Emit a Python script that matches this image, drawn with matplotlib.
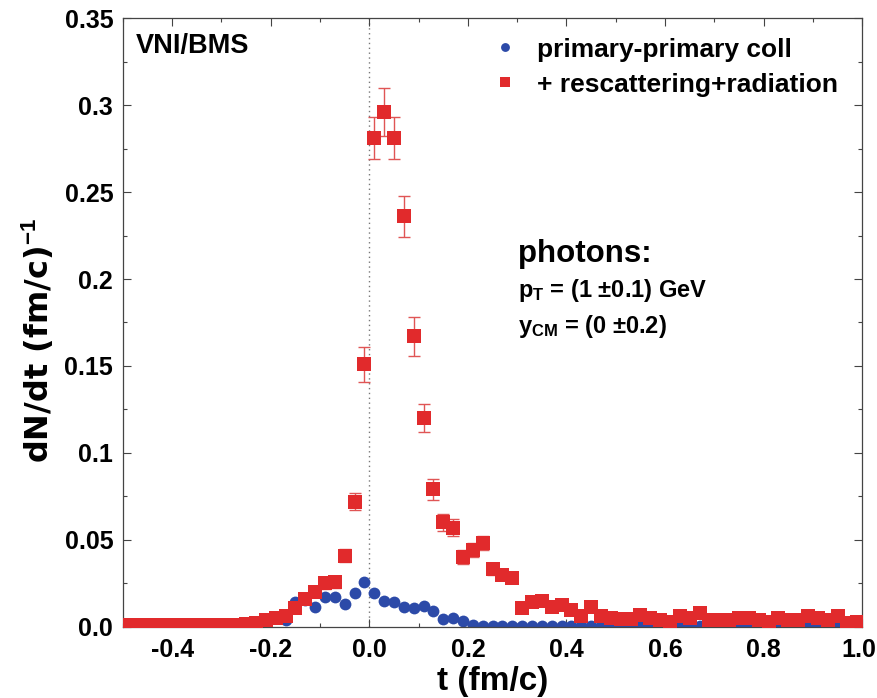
import matplotlib
matplotlib.use('Agg')
import matplotlib.pyplot as plt
import matplotlib.transforms as mtransforms
import numpy as np

plt.rcParams['font.family'] = ['Liberation Sans', 'DejaVu Sans']
plt.rcParams['font.weight'] = 'bold'
plt.rcParams['mathtext.fontset'] = 'custom'
plt.rcParams['mathtext.rm'] = 'Liberation Sans:bold'
plt.rcParams['mathtext.bf'] = 'Liberation Sans:bold'
plt.rcParams['mathtext.it'] = 'Liberation Sans:bold'

# bin centres in t (fm/c), 0.02 wide bins from -0.5 to 1.0
t_centres = np.round(np.arange(-0.49, 1.0, 0.02), 2)

# primary-primary collisions
primary = [
    0.0005, 0.0005, 0.0005, 0.0005, 0.0005, 0.0005, 0.0005, 0.0005, 0.0005, 0.0005,
    0.0005, 0.0005, 0.0005, 0.001, 0.003, 0.005, 0.004, 0.014, 0.0155, 0.0115,
    0.017, 0.017, 0.013, 0.0195, 0.026, 0.0195, 0.015, 0.0145, 0.0115, 0.011,
    0.012, 0.009, 0.0045, 0.005, 0.0035, 0.0008, 0.0005, 0.0005, 0.0005, 0.0005,
    0.0005, 0.0005, 0.0005, 0.0005, 0.0005, 0.0005, 0.0005, 0.0005, 0.0005, 0.0005,
    0.0005, 0.0005, 0.0005, 0.0005, 0.0005, 0.0005, 0.0005, 0.0005, 0.0005, 0.0005,
    0.0005, 0.0005, 0.0005, 0.0005, 0.0005, 0.0005, 0.0005, 0.0005, 0.0005, 0.0005,
    0.0005, 0.0005, 0.0005, 0.0005, 0.0005,
]

# + rescattering + radiation
full = [
    0.001, 0.001, 0.001, 0.001, 0.001, 0.001, 0.001, 0.001, 0.001, 0.001,
    0.001, 0.001, 0.0015, 0.002, 0.004, 0.005, 0.006, 0.011, 0.016, 0.020,
    0.025, 0.026, 0.041, 0.072, 0.151, 0.281, 0.296, 0.281, 0.236, 0.167,
    0.120, 0.079, 0.060, 0.057, 0.040, 0.044, 0.048, 0.033, 0.030, 0.028,
    0.011, 0.014, 0.015, 0.0115, 0.0125, 0.0095, 0.006, 0.0115, 0.006, 0.005,
    0.0045, 0.0045, 0.007, 0.005, 0.004, 0.003, 0.006, 0.005, 0.008, 0.004,
    0.004, 0.004, 0.005, 0.005, 0.004, 0.0025, 0.005, 0.004, 0.004, 0.006,
    0.005, 0.004, 0.006, 0.002, 0.003,
]

full_err = [
    0.0005, 0.0005, 0.0005, 0.0005, 0.0005, 0.0005, 0.0005, 0.0005, 0.0005, 0.0005,
    0.0005, 0.0005, 0.0008, 0.001, 0.0015, 0.0015, 0.002, 0.0025, 0.003, 0.003,
    0.0035, 0.0035, 0.004, 0.005, 0.010, 0.012, 0.014, 0.012, 0.012, 0.011,
    0.008, 0.006, 0.005, 0.005, 0.004, 0.004, 0.004, 0.003, 0.003, 0.003,
    0.002, 0.002, 0.002, 0.002, 0.002, 0.002, 0.0015, 0.002, 0.0015, 0.0015,
    0.0015, 0.0015, 0.0015, 0.0015, 0.0015, 0.0015, 0.0015, 0.0015, 0.0015, 0.0015,
    0.0015, 0.0015, 0.0015, 0.0015, 0.0015, 0.0015, 0.0015, 0.0015, 0.0015, 0.0015,
    0.0015, 0.0015, 0.0015, 0.0015, 0.0015,
]

x_ticks = [-0.4, -0.2, 0.0, 0.2, 0.4, 0.6, 0.8, 1.0]
x_labels = ['-0.4', '-0.2', '0.0', '0.2', '0.4', '0.6', '0.8', '1.0']
y_ticks = [0.0, 0.05, 0.1, 0.15, 0.2, 0.25, 0.3, 0.35]
y_labels = ['0.0', '0.05', '0.1', '0.15', '0.2', '0.25', '0.3', '0.35']

blue = '#2c4aa8'
red = '#e12a2c'

fig = plt.figure(figsize=(8.78, 6.98), dpi=100)
ax = fig.add_axes([0.140, 0.102, 0.842, 0.872])

ax.axvline(0.0, color='#777777', ls=(0, (1, 2.5)), lw=1.0, zorder=1)

ax.plot(t_centres, primary, 'o', color=blue, ms=8.5, mew=0, zorder=2,
        label='primary-primary coll')
ax.errorbar(t_centres, full, yerr=full_err, fmt='none', ecolor='#e05555',
            elinewidth=1.0, capsize=4.5, capthick=1.0, zorder=3)
ax.plot(t_centres, full, 's', color=red, ms=10.5, mew=0, zorder=4,
        label='+ rescattering+radiation')

ax.set_xlim(-0.5, 1.0)
ax.set_ylim(0.0, 0.35)
ax.set_xticks(x_ticks)
ax.set_xticklabels(x_labels)
ax.set_xticks(np.arange(-0.5, 1.01, 0.1), minor=True)
ax.set_yticks(y_ticks)
ax.set_yticklabels(y_labels)
ax.set_yticks(np.arange(0.0, 0.351, 0.025), minor=True)
ax.tick_params(which='both', direction='in', top=True, right=True,
               labelsize=18, width=0.8, color='#444444')
ax.tick_params(which='major', length=6)
ax.tick_params(which='minor', length=3)
ax.tick_params(axis='y', which='major', pad=7)
ax.tick_params(axis='x', which='major', pad=8)
for s in ax.spines.values():
    s.set_color('#444444')
    s.set_linewidth(0.9)

# keep the last x tick label inside the canvas
last = ax.get_xticklabels()[-1]
last.set_transform(last.get_transform() +
                   mtransforms.ScaledTranslation(-3 / 100, 0, fig.dpi_scale_trans))

ax.set_xlabel('t (fm/c)', fontsize=24, fontweight='bold', labelpad=3)
ax.set_ylabel(r'dN/dt (fm/c)$^{\mathbf{-1}}$', fontsize=23, fontweight='bold',
              family=['DejaVu Sans'])
ax.yaxis.set_label_coords(-0.09, 0.47)

ax.text(0.017, 0.955, 'VNI/BMS', transform=ax.transAxes, fontsize=19.5,
        fontweight='bold', ha='left', va='center')

ax.legend(loc='upper left', bbox_to_anchor=(0.4993, 0.968), frameon=False,
          fontsize=19, markerscale=0.75, handlelength=1.0, handletextpad=0.7,
          labelspacing=0.42, borderaxespad=0, borderpad=0)

ax.text(0.535, 0.613, 'photons:', transform=ax.transAxes, fontsize=22.5,
        fontweight='bold', ha='left', va='center')
ax.text(0.535, 0.552, r'p$_{\mathbf{T}}$ = (1 $\pm$0.1) GeV', transform=ax.transAxes,
        fontsize=17, fontweight='bold', ha='left', va='center')
ax.text(0.535, 0.494, r'y$_{\mathbf{CM}}$ = (0 $\pm$0.2)', transform=ax.transAxes,
        fontsize=17, fontweight='bold', ha='left', va='center')

fig.savefig('out.png', dpi=100)
